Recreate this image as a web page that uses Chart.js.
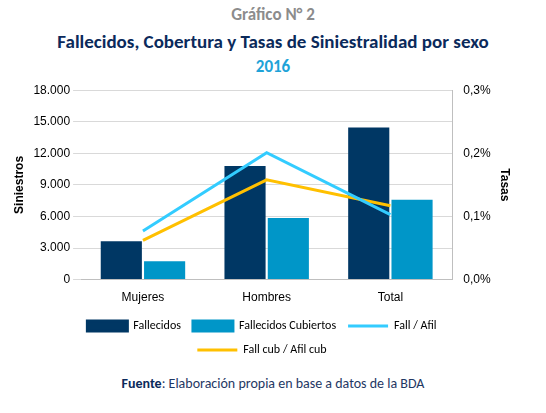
<!DOCTYPE html>
<html>
<head>
<meta charset="utf-8">
<script src="https://cdn.jsdelivr.net/npm/chart.js@4/dist/chart.umd.min.js"></script>
<style>
  body { margin: 0; width: 546px; height: 413px; background: #fff; font-family: Calibri, Carlito, "Open Sans", sans-serif; }
  .t { position: absolute; left: 0; width: 546px; text-align: center; font-weight: bold; }
  #wrap { position: absolute; left: 0; top: 80px; width: 546px; height: 286px; }
</style>
</head>
<body>
<div class="t" style="top:4px;font-size:17px;color:#8c8c8c">Gráfico N° 2</div>
<div class="t" style="top:30px;font-size:19px;color:#0b2a5b">Fallecidos, Cobertura y Tasas de Siniestralidad por sexo</div>
<div class="t" style="top:56px;font-size:17px;color:#1ea3d8">2016</div>
<div id="wrap"><canvas id="grafico"></canvas></div>
<div class="t" style="top:375px;font-size:14px;font-weight:normal;color:#1f3864"><b style="color:#0b2a5b">Fuente</b>: Elaboración propia en base a datos de la BDA</div>
<script>
// Datos
const categorias = ["Mujeres", "Hombres", "Total"];
const fallecidos = [3650, 10800, 14450];
const fallecidosCubiertos = [1750, 5850, 7600];
const fallAfil = [0.077, 0.201, 0.103];
const fallCubAfilCub = [0.062, 0.158, 0.117];

const azulOscuro = "#003764";
const azulMedio = "#0096c8";
const celeste = "#33ccff";
const amarillo = "#ffc000";

new Chart(document.getElementById("grafico"), {
  data: {
    labels: categorias,
    datasets: [
      { type: "bar", label: "Fallecidos", data: fallecidos, backgroundColor: azulOscuro, yAxisID: "y", order: 2, categoryPercentage: 0.7, barPercentage: 0.95 },
      { type: "bar", label: "Fallecidos Cubiertos", data: fallecidosCubiertos, backgroundColor: azulMedio, yAxisID: "y", order: 2, categoryPercentage: 0.7, barPercentage: 0.95 },
      { type: "line", label: "Fall / Afil", data: fallAfil, borderColor: celeste, backgroundColor: celeste, borderWidth: 3, pointRadius: 0, yAxisID: "y1", order: 1 },
      { type: "line", label: "Fall cub / Afil cub", data: fallCubAfilCub, borderColor: amarillo, backgroundColor: amarillo, borderWidth: 3, pointRadius: 0, yAxisID: "y1", order: 1 }
    ]
  },
  options: {
    responsive: true,
    maintainAspectRatio: false,
    animation: false,
    layout: { padding: { left: 8, right: 30, top: 10 } },
    plugins: {
      legend: {
        position: "bottom",
        labels: {
          font: { size: 12, family: "Calibri, Carlito, 'Open Sans', sans-serif" },
          color: "#000",
          usePointStyle: true,
          pointStyleWidth: 40,
          boxHeight: 10,
          padding: 12,
          generateLabels: (chart) => chart.data.datasets.map((ds, i) => ({
            text: ds.label,
            fillStyle: ds.type === "bar" ? ds.backgroundColor : ds.borderColor,
            strokeStyle: ds.type === "bar" ? ds.backgroundColor : ds.borderColor,
            lineWidth: 3,
            pointStyle: ds.type === "bar" ? "rect" : "line",
            datasetIndex: i
          }))
        }
      },
      tooltip: { enabled: false }
    },
    scales: {
      x: {
        grid: { display: false },
        border: { color: "#bfbfbf" },
        ticks: { color: "#000", font: { size: 12 } }
      },
      y: {
        position: "left",
        min: 0, max: 18000,
        ticks: { stepSize: 3000, color: "#000", font: { size: 12 },
          callback: (v) => v.toLocaleString("de-DE") },
        grid: { color: "#d9d9d9" },
        border: { display: false },
        title: { display: true, text: "Siniestros", color: "#000", font: { size: 12, weight: "bold" } }
      },
      y1: {
        position: "right",
        min: 0, max: 0.3,
        ticks: { stepSize: 0.1, color: "#000", font: { size: 12 },
          callback: (v) => v.toFixed(1).replace(".", ",") + "%" },
        grid: { display: false },
        border: { color: "#bfbfbf" },
        title: { display: true, text: "Tasas", color: "#000", font: { size: 12, weight: "bold" } }
      }
    }
  }
});
</script>
</body>
</html>
